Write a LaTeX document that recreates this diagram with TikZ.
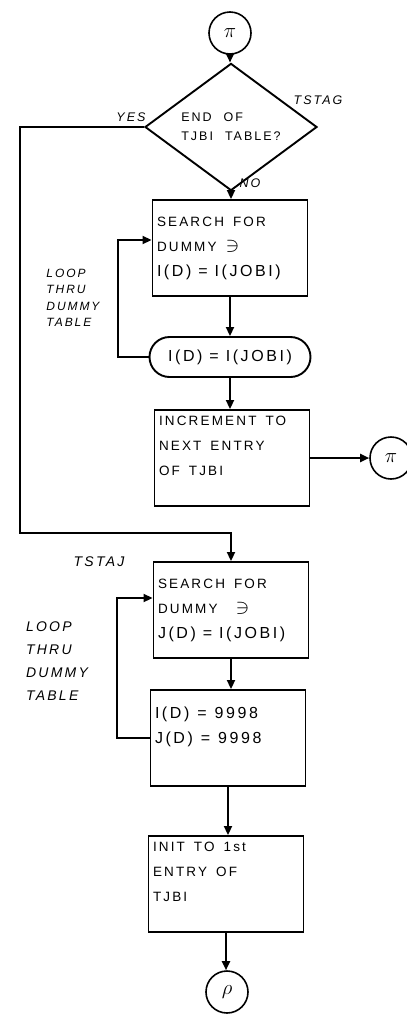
\documentclass[tikz,border=0pt]{standalone}
\usepackage{fontspec}
\setmainfont{Liberation Sans}
\newfontfamily\hand[LetterSpace=16]{Liberation Sans}
\usepackage{tikz}
\usetikzlibrary{positioning, arrows.meta, shapes.geometric, shapes.misc}
\newcommand{\suchthat}{{\fontsize{20}{20}\selectfont$\ni$}}
\newcommand{\wordgap}[1]{\spaceskip #1\relax}

\begin{document}
\begin{tikzpicture}[
  x=1pt, y=-1pt,
  font=\hand\fontsize{13.5}{25}\selectfont,
  procbox/.style={draw, line width=1.9pt, minimum width=155pt, minimum height=96pt, text width=146pt, inner sep=0pt, align=left, execute at begin node={\wordgap{9pt}}},
  decision/.style={draw, diamond, line width=1.9pt, minimum width=172pt, minimum height=97pt, inner sep=0pt, align=left, font=\hand\fontsize{12.5}{19}\selectfont\wordgap{12pt}},
  terminal/.style={draw, rounded rectangle, line width=1.9pt, minimum width=161pt, minimum height=40pt, inner sep=0pt, font=\hand\fontsize{16}{18}\selectfont},
  connector/.style={draw, circle, line width=1.6pt, minimum size=42pt, inner sep=0pt, font=\fontsize{22}{24}\selectfont},
  note/.style={font=\hand\fontsize{12.5}{16}\selectfont\itshape, align=left},
  flowarrow/.style={-{Triangle[length=9pt,width=8pt]}, line width=1.9pt}
]
\useasboundingbox (0,0) rectangle (407,1015);

% nodes
\node[connector] (pitop) at (230,33) {$\pi$};
\node[decision] (dec) at (231,127) {END OF\\TJBI TABLE?};
\node[procbox] (srch1) at (230,248) {SEARCH FOR\\DUMMY \suchthat\\{\fontsize{16}{18}\selectfont\wordgap{7pt}I(D) = I(JOBI)}};
\node[terminal] (found1) at (230,357) {I(D) = I(JOBI)};
\node[procbox] (incr) at (232,458) {INCREMENT TO\\NEXT ENTRY\\OF TJBI\\\mbox{}};
\node[connector] (piright) at (391,458) {$\pi$};
\node[procbox] (srch2) at (231,610) {SEARCH FOR\\DUMMY \ \suchthat\\{\fontsize{16}{18}\selectfont\wordgap{7pt}J(D) = I(JOBI)}};
\node[procbox] (reset) at (228,738) {{\fontsize{16}{26}\selectfont\wordgap{8pt}I(D) = 9998\\J(D) = 9998}\\\mbox{}};
\node[procbox] (init) at (226,884) {INIT TO 1st\\ENTRY OF\\TJBI\\\mbox{}};
\node[connector] (rhobot) at (227,992) {$\rho$};

% labels
\node[note] (tstag) at (318,100) {TSTAG};
\node[note] (yes) at (131,117) {YES};
\node[note] (no) at (250,183) {NO};
\node[note, font=\hand\fontsize{12}{16.5}\selectfont\itshape] (loopnote1) at (73,298) {LOOP\\THRU\\DUMMY\\TABLE};
\node[note, font=\hand\fontsize{14}{16}\selectfont\itshape] (tstaj) at (99,562) {TSTAJ};
\node[note, font=\hand\fontsize{14}{23}\selectfont\itshape] (loopnote2) at (57,661) {LOOP\\THRU\\DUMMY\\TABLE};

% connectors
\coordinate (yesturn) at (20,533);
\coordinate (loopA) at (118,240);
\coordinate (loopB) at (117,598);

\draw[flowarrow] (pitop) -- (pitop |- dec.north);
\draw[flowarrow] (dec) -- (dec |- srch1.north);
\draw[flowarrow] (srch1) -- (srch1 |- found1.north);
\draw[flowarrow] (found1.south) -- (found1.south |- incr.north);
\draw[flowarrow] (found1.west) -| (loopA) -- (srch1.west |- loopA);
\draw[flowarrow] (incr) -- (piright);
\draw[flowarrow] (dec.west) -| (yesturn) -| (srch2.north);
\draw[flowarrow] (srch2.south) -- (srch2.south |- reset.north);
\draw[flowarrow] (reset.west) -| (loopB) -- (srch2.west |- loopB);
\draw[flowarrow] (reset.south) -- (reset.south |- init.north);
\draw[flowarrow] (init.south) -- (init.south |- rhobot.north);
\end{tikzpicture}
\end{document}
